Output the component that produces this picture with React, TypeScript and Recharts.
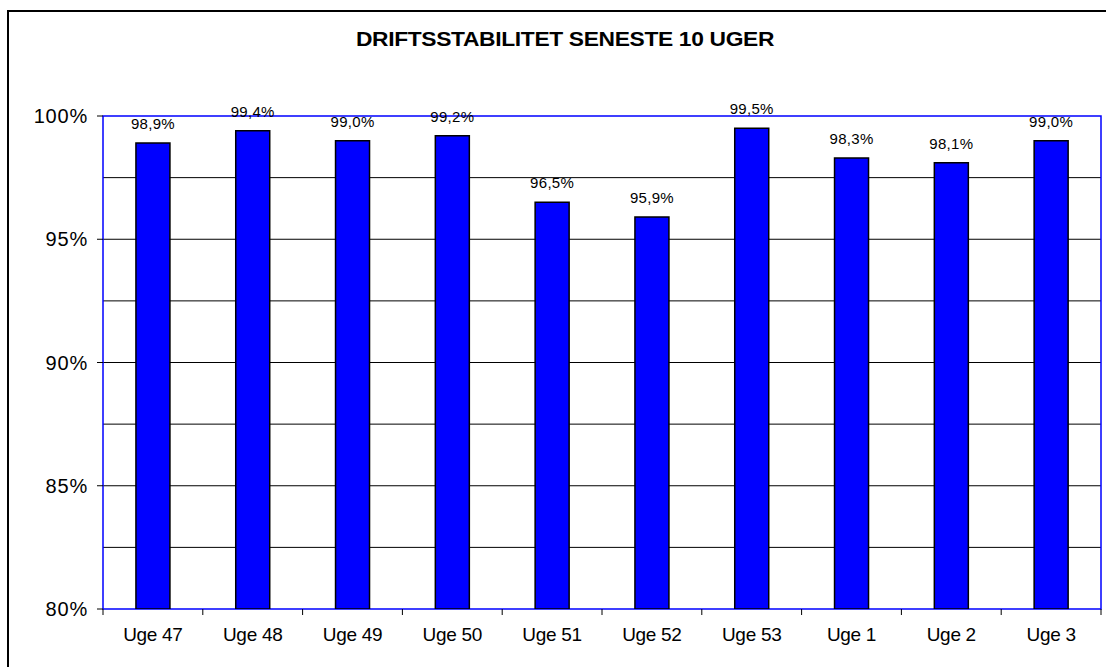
import React from "react";
import {
  BarChart, Bar, XAxis, YAxis, CartesianGrid, LabelList, ReferenceArea,
} from "recharts";

const weeks = ["Uge 47", "Uge 48", "Uge 49", "Uge 50", "Uge 51", "Uge 52", "Uge 53", "Uge 1", "Uge 2", "Uge 3"];
const stability = [98.9, 99.4, 99.0, 99.2, 96.5, 95.9, 99.5, 98.3, 98.1, 99.0];
const yTicks = [80, 85, 90, 95, 100];
const gridLines = [82.5, 85, 87.5, 90, 92.5, 95, 97.5];

const data = weeks.map((week, i) => ({ week, value: stability[i] }));

const font = "'Liberation Sans', Arial, sans-serif";
const fmt = (v: number) => `${v.toFixed(1).replace(".", ",")}%`;
const LABEL_GAP = 19;

// Excel style: tick marks between categories, label in the middle
function WeekTick(props: any) {
  const { x, y, payload, index, visibleTicksCount } = props;
  const half = payload?.offset || 49.9;
  const axisY = y - LABEL_GAP;
  const last = index === (visibleTicksCount ?? weeks.length) - 1;
  return (
    <g>
      <line x1={x - half} x2={x - half} y1={axisY} y2={axisY + 6} stroke="#000" />
      {last && <line x1={x + half} x2={x + half} y1={axisY} y2={axisY + 6} stroke="#000" />}
      <text x={x} y={y} dy="0.71em" textAnchor="middle" fontSize={19} fill="#000"
        fontFamily={font} letterSpacing={-0.3}>
        {payload.value}
      </text>
    </g>
  );
}

export default function App() {
  return (
    <div style={{ position: "absolute", left: 0, top: 0, width: 1106, height: 667, overflow: "hidden", background: "#fff", fontFamily: font }}>
      <div style={{ position: "absolute", left: 7, top: 10, width: 1120, height: 680, border: "2px solid #000" }} />
      <div style={{
        position: "absolute", left: 565, top: 28, whiteSpace: "nowrap",
        transform: "translateX(-50%) scaleX(1.14)",
        fontWeight: "bold", fontSize: 20, letterSpacing: -0.3, color: "#000",
      }}>
        DRIFTSSTABILITET SENESTE 10 UGER
      </div>
      <div style={{ position: "absolute", left: 0, top: 0 }}>
        <BarChart width={1106} height={667} data={data}
          margin={{ top: 116, right: 5, left: 8, bottom: 28 }} barCategoryGap="33%">
          <CartesianGrid horizontal vertical={false} horizontalValues={gridLines} stroke="#000" strokeWidth={1} />
          <XAxis dataKey="week" tickLine={false} tickSize={0} tickMargin={LABEL_GAP} height={30}
            axisLine={false} interval={0} tick={<WeekTick />} />
          <YAxis domain={[80, 100]} ticks={yTicks} width={95} tickSize={6} tickMargin={9}
            allowDataOverflow tickFormatter={(v: number) => `${v}%`}
            axisLine={false} tickLine={{ stroke: "#000" }}
            tick={{ fontSize: 20, fill: "#000", fontFamily: font, letterSpacing: 0.8 }} />
          <Bar dataKey="value" fill="#0000FF" stroke="#000" strokeWidth={1.5} isAnimationActive={false}>
            <LabelList dataKey="value" position="top" offset={14} formatter={(v: any) => fmt(Number(v))}
              style={{ fontSize: 15, fill: "#000", fontFamily: font, letterSpacing: 0.3 }} />
          </Bar>
          <ReferenceArea y1={80} y2={100} fill="none" stroke="#0000FF" strokeWidth={1.5} ifOverflow="visible" />
        </BarChart>
      </div>
    </div>
  );
}
